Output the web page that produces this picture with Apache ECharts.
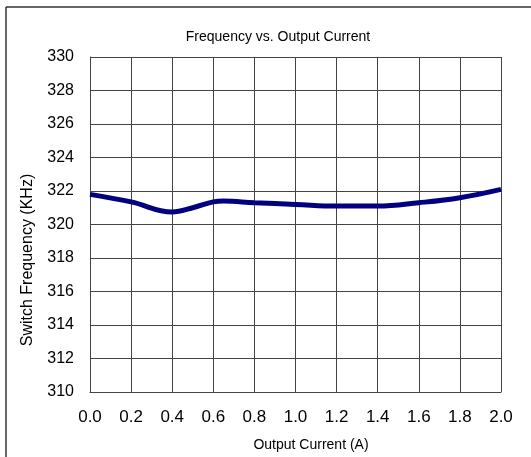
<!DOCTYPE html>
<html>
<head>
<meta charset="utf-8">
<script src="https://cdn.jsdelivr.net/npm/echarts@6/dist/echarts.min.js"></script>
<style>
  html, body { margin: 0; padding: 0; background: #fff; }
  #chart { width: 531px; height: 457px; }
</style>
</head>
<body>
<div id="chart"></div>
<script>
// output current (A) and switch frequency (KHz)
const current = [0.0, 0.2, 0.4, 0.5, 0.6, 0.65, 0.8, 1.0, 1.2, 1.4, 1.6, 1.8, 2.0];
const frequency = [321.8, 321.35, 320.75, 321.0, 321.35, 321.4, 321.3, 321.2, 321.1, 321.1, 321.3, 321.6, 322.1];

const FONT = "'Liberation Sans', Arial, sans-serif";

const chart = echarts.init(document.getElementById("chart"));

chart.setOption({
  animation: false,
  title: {
    text: "Frequency vs. Output Current",
    left: 273,
    top: 25,
    textAlign: "center",
    textStyle: { fontFamily: FONT, fontSize: 14, fontWeight: "normal", color: "#000" },
  },
  grid: { left: 90, right: 30, top: 57, bottom: 65 },
  xAxis: {
    type: "value",
    min: 0,
    max: 2,
    interval: 0.2,
    axisLine: { lineStyle: { color: "#444", width: 1 } },
    axisTick: { show: false },
    axisLabel: {
      fontFamily: FONT,
      fontSize: 17,
      color: "#000",
      margin: 17,
      formatter: (v) => v.toFixed(1),
    },
    splitLine: { show: true, lineStyle: { color: "#444", width: 1 } },
  },
  yAxis: {
    type: "value",
    min: 310,
    max: 330,
    interval: 2,
    axisLine: { show: true, lineStyle: { color: "#444", width: 1 } },
    axisTick: { show: false },
    axisLabel: { fontFamily: FONT, fontSize: 16, color: "#000", margin: 16 },
    splitLine: { show: true, lineStyle: { color: "#444", width: 1 } },
  },
  graphic: [
    // partial frame around the picture
    { type: "line", shape: { x1: 6, y1: 7, x2: 531, y2: 7 }, style: { stroke: "#333", lineWidth: 1.5 } },
    { type: "line", shape: { x1: 6, y1: 7, x2: 6, y2: 457 }, style: { stroke: "#333", lineWidth: 1.5 } },
    // axis titles
    {
      type: "text",
      x: 311,
      y: 445,
      style: {
        text: "Output Current (A)",
        font: "14px " + FONT,
        fill: "#000",
        align: "center",
        verticalAlign: "middle",
      },
    },
    {
      type: "text",
      x: 28,
      y: 260,
      rotation: Math.PI / 2,
      style: {
        text: "Switch Frequency (KHz)",
        font: "16px " + FONT,
        fill: "#000",
        align: "center",
        verticalAlign: "middle",
      },
    },
  ],
  series: [
    {
      type: "line",
      data: current.map((c, i) => [c, frequency[i]]),
      smooth: 0.4,
      showSymbol: false,
      lineStyle: { color: "#000080", width: 5 },
    },
  ],
});
</script>
</body>
</html>
